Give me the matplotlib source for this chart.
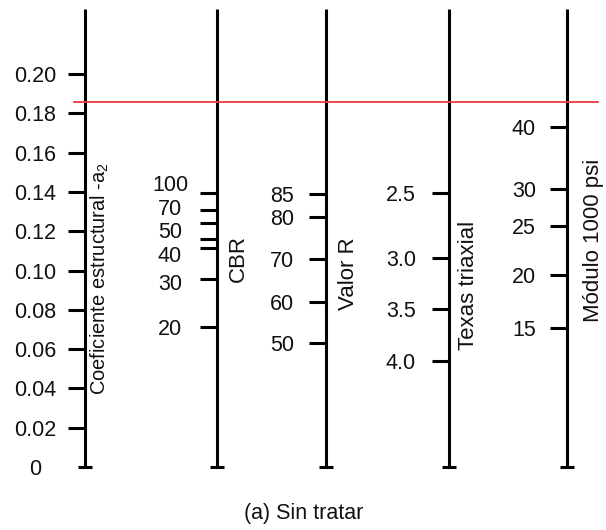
import numpy as np
import matplotlib
matplotlib.use("Agg")
import matplotlib.pyplot as plt

plt.rcParams["font.family"] = ["Liberation Sans", "DejaVu Sans"]
plt.rcParams["mathtext.fontset"] = "custom"
plt.rcParams["mathtext.rm"] = "Liberation Sans"

# ===================== Data =====================
# every scale is placed on the a2 (structural coefficient) axis

coef_values = [0, 0.02, 0.04, 0.06, 0.08, 0.10, 0.12, 0.14, 0.16, 0.18, 0.20]
coef_labels = ["0", "0.02", "0.04", "0.06", "0.08", "0.10",
               "0.12", "0.14", "0.16", "0.18", "0.20"]

cbr_tick_a2 = [0.1394, 0.1308, 0.1242, 0.1160, 0.1115, 0.0957, 0.0712]
cbr_labels = ["100", "70", "50", "40", "30", "20"]
cbr_label_a2 = [0.1445, 0.1323, 0.1206, 0.1084, 0.0941, 0.0712]

r_labels = ["85", "80", "70", "60", "50"]
r_a2 = [0.1389, 0.1272, 0.1059, 0.0840, 0.0631]

texas_labels = ["2.5", "3.0", "3.5", "4.0"]
texas_a2 = [0.1394, 0.1064, 0.0804, 0.0539]

mod_labels = ["40", "30", "25", "20", "15"]
mod_a2 = [0.1730, 0.1415, 0.1226, 0.0977, 0.0707]

a2_line = 0.1859

# ===================== Figure =====================
fig = plt.figure(figsize=(6.06, 5.30), dpi=100)
ax = fig.add_axes([0, 0, 1, 1])
ax.set_xlim(0, 606)
ax.set_ylim(-0.03206, 0.23766)
ax.axis("off")

LW = 2.2
FS = 15.5
top = 0.2331
tick_len = 17
foot = 7


def draw_scale(x, tick_pos, lbl_pos, labels, lbl_x):
    ax.plot([x, x], [0, top], color="black", lw=LW, solid_capstyle="butt")
    ax.plot([x - foot, x + foot], [0, 0], color="black", lw=LW,
            solid_capstyle="butt")
    for t in tick_pos:
        ax.plot([x - tick_len, x], [t, t], color="black", lw=LW,
                solid_capstyle="butt")
    for p, s in zip(lbl_pos, labels):
        ax.text(lbl_x, p, s, ha="center", va="center_baseline",
                fontsize=FS, color="#111111")


def draw_title(x, y, s, fs=16):
    ax.text(x, y, s, rotation=90, rotation_mode="anchor", ha="left",
            va="center", fontsize=fs, color="#111111")


# coefficient axis
draw_scale(85, coef_values[1:], coef_values, coef_labels, 35)
draw_title(100, 0.0366, "Coeficiente estructural -a$_2$", fs=14.5)

draw_scale(217, cbr_tick_a2, cbr_label_a2, cbr_labels, 170)
draw_title(238, 0.0941, "CBR")

draw_scale(326, r_a2, r_a2, r_labels, 282)
draw_title(349, 0.0799, "Valor R")

draw_scale(449, texas_a2, texas_a2, texas_labels, 401)
draw_title(468, 0.0595, "Texas triaxial")

draw_scale(567, mod_a2, mod_a2, mod_labels, 524)
draw_title(594, 0.0738, "Módulo 1000 psi")

# reading line
ax.plot([74, 598], [a2_line, a2_line], color="#ea3a3e", lw=1.3)

ax.text(304, -0.0239, "(a) Sin tratar", ha="center", va="center",
        fontsize=FS, color="#111111")

fig.savefig("out.png", dpi=100)
